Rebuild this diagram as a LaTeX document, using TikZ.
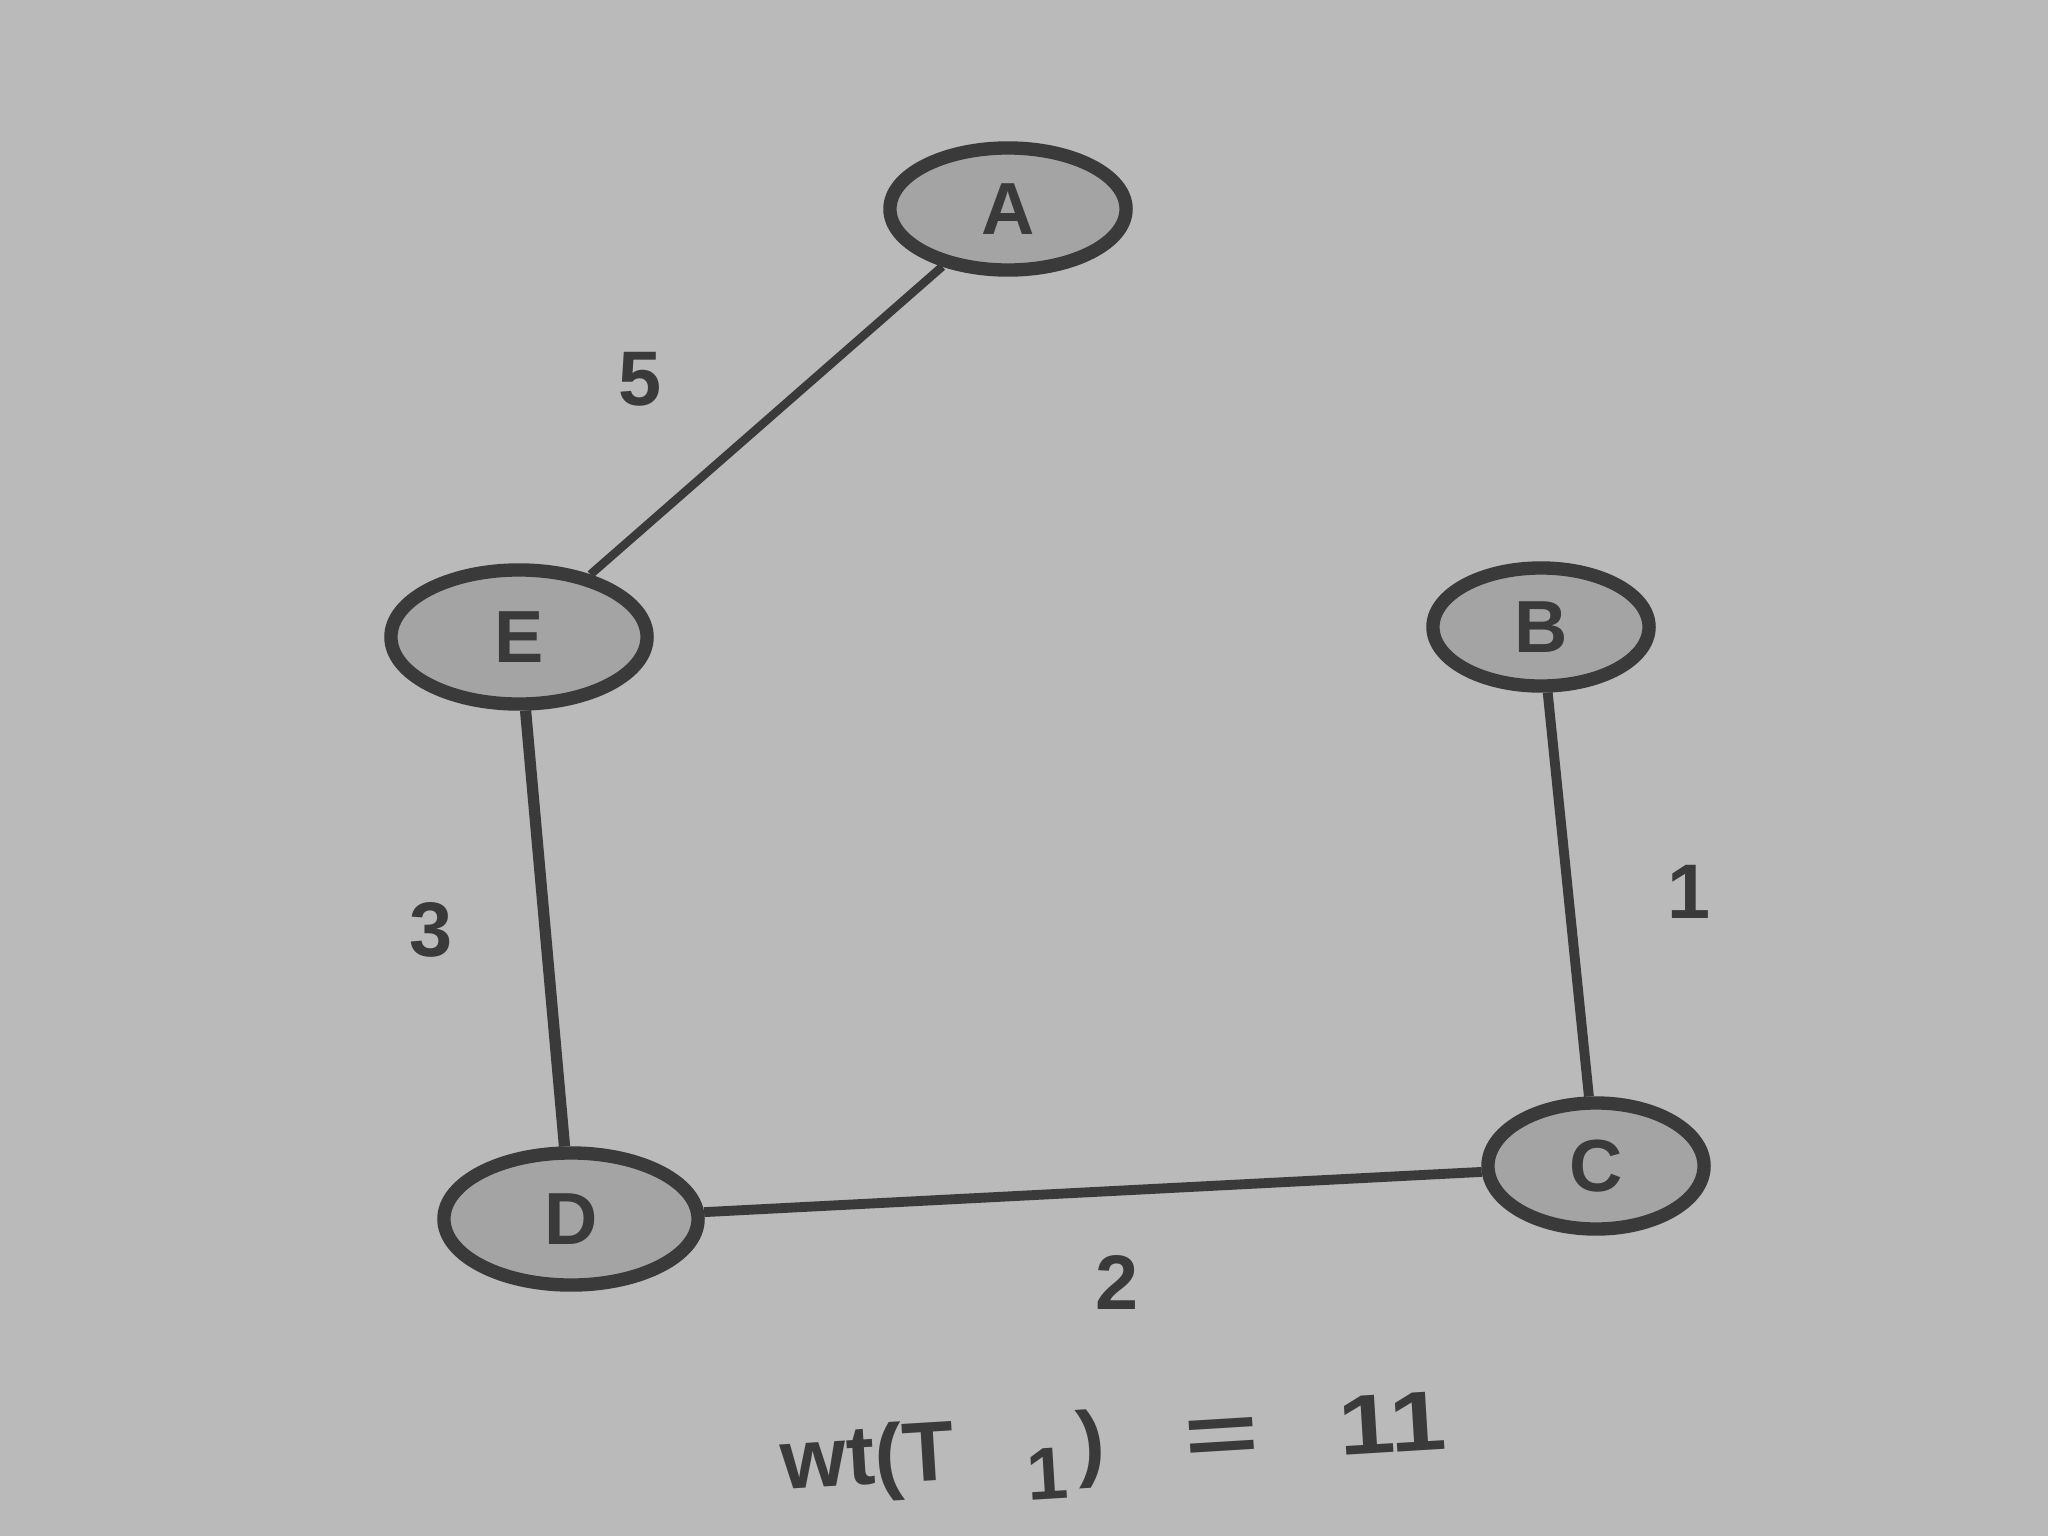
\documentclass[tikz,border=0pt]{standalone}
\usepackage{fontspec}
\usepackage{graphicx}
\setmainfont{Liberation Sans}
\usetikzlibrary{shapes.geometric}
\definecolor{paper}{HTML}{BABABA}
\definecolor{ink}{HTML}{3A3A3A}
\definecolor{nodefill}{HTML}{A4A4A4}
\tikzset{
  vert/.style={ellipse, draw=ink, line width=3.8pt, fill=nodefill, inner sep=0pt, text=ink, font=\bfseries\fontsize{21}{24}\selectfont},
  edge/.style={draw=ink, line width=2.8pt},
  wlabel/.style={text=ink, font=\bfseries\fontsize{22}{26}\selectfont}
}
\begin{document}
\begin{tikzpicture}[x=0.01cm,y=-0.01cm]
\fill[paper] (0,0) rectangle (2048,1536);
\useasboundingbox (0,0) rectangle (2048,1536);
\node[vert, minimum width=2.36cm, minimum height=1.22cm] (A) at (1008,209) {A};
\node[vert, minimum width=2.56cm, minimum height=1.34cm] (E) at (519,637) {E};
\node[vert, minimum width=2.16cm, minimum height=1.18cm] (B) at (1541,627) {B};
\node[vert, minimum width=2.54cm, minimum height=1.32cm] (D) at (571,1219) {D};
\node[vert, minimum width=2.16cm, minimum height=1.26cm] (C) at (1596,1166) {C};
\draw[edge, line width=2.4pt] (A) -- (E);
\draw[edge, line width=3.2pt] (E) -- (D);
\draw[edge] (D) -- (C);
\draw[edge] (B) -- (C);
\node[wlabel] (w5) at (640,379) {5};
\node[wlabel] (w3) at (431,930) {3};
\node[wlabel] (w1) at (1689,892) {1};
\node[wlabel] (w2) at (1117,1282) {2};
\node[text=ink, font=\bfseries\fontsize{24}{28}\selectfont, anchor=base west, rotate=3.5, inner sep=0pt] (wt) at (782,1490)
  {wt(T\hspace{0.85em}\raisebox{-0.3em}{\fontsize{21}{24}\selectfont 1}\hspace{0.12em})\hspace{0.95em}\scalebox{1.5}[1]{=}\hspace{0.95em}\scalebox{1.2}[1]{11}};
\end{tikzpicture}
\end{document}
